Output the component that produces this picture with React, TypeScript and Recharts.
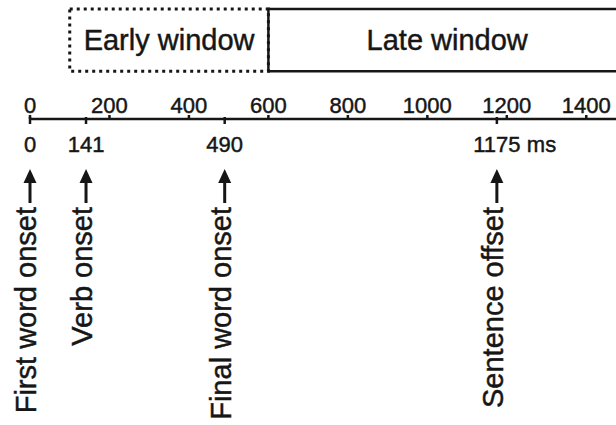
import { ComposedChart, XAxis, YAxis, ReferenceArea, Scatter } from "recharts";

// time axis (ms)
const TIME_DOMAIN = [0, 1500];
const SCALE_TICKS = [0, 200, 400, 600, 800, 1000, 1200, 1400];

// sentence events
const EVENT_TIMES = [0, 141, 490, 1175];
const EVENT_NAMES = ["First word onset", "Verb onset", "Final word onset", "Sentence offset"];
const EVENT_UNITS = ["", "", "", "ms"];

// analysis windows
const WINDOW_NAMES = ["Early window", "Late window"];
const WINDOW_STARTS = [100, 600];
const WINDOW_ENDS = [600, 1500];

const INK = "#161616";
const FONT = "'Liberation Sans', Arial, Helvetica, sans-serif";
const HEAVY = { stroke: INK, strokeWidth: 0.45 };

const eventData = EVENT_TIMES.map((t) => ({ t, level: 0 }));
const scaleData = SCALE_TICKS.map((t) => ({ t, level: 0 }));

const ScaleTick = (props: any) => {
    const { x, y, payload } = props;
    return (
        <g>
            <line x1={x} x2={x} y1={y} y2={y - 4} stroke={INK} strokeWidth={2.5} />
            <text x={x} y={y - 6} textAnchor="middle" fontSize={22} fill={INK} {...HEAVY}>
                {payload.value}
            </text>
        </g>
    );
};

// the events axis sits 1px under the scale axis
const EventTick = (props: any) => {
    const { x, payload } = props;
    const y = props.y - 1;
    const i = EVENT_TIMES.indexOf(payload.value);
    if (i < 0) return <g />;
    const unit = EVENT_UNITS[i];
    return (
        <g>
            <line x1={x} x2={x} y1={y} y2={y + 7} stroke={INK} strokeWidth={2.5} />
            <text x={x} y={y + 35} textAnchor="middle" fontSize={22} fill={INK} {...HEAVY}>
                {payload.value}
            </text>
            {unit ? (
                <text x={x + 30} y={y + 35} textAnchor="start" fontSize={22} fill={INK} {...HEAVY}>
                    {unit}
                </text>
            ) : null}
            {/* arrow */}
            <line x1={x} x2={x} y1={y + 64} y2={y + 86} stroke={INK} strokeWidth={3} />
            <path d={`M${x},${y + 52} L${x - 6.5},${y + 66} L${x + 6.5},${y + 66} Z`} fill={INK} />
            <text
                x={x + 6}
                y={y + 90}
                transform={`rotate(-90, ${x + 6}, ${y + 90})`}
                textAnchor="end"
                fontSize={29}
                fill={INK}
                {...HEAVY}
            >
                {EVENT_NAMES[i]}
            </text>
        </g>
    );
};

const NoDot = () => <g />;

export default function App() {
    return (
        <div style={{ position: "absolute", left: 0, top: 0, width: 616, height: 425, overflow: "hidden", background: "#fff" }}>
            <ComposedChart
                width={626}
                height={425}
                margin={{ top: 9, right: 0, bottom: 305, left: 30 }}
                style={{ fontFamily: FONT }}
            >
                <YAxis yAxisId="y" dataKey="level" type="number" domain={[0, 1]} hide />
                <XAxis
                    xAxisId="scale"
                    dataKey="t"
                    type="number"
                    domain={TIME_DOMAIN}
                    ticks={SCALE_TICKS}
                    orientation="bottom"
                    height={1}
                    tickSize={0}
                    tickMargin={0}
                    tickLine={false}
                    axisLine={{ stroke: INK, strokeWidth: 2.5 }}
                    tick={ScaleTick}
                    interval={0}
                    allowDataOverflow
                />
                <XAxis
                    xAxisId="events"
                    dataKey="t"
                    type="number"
                    domain={TIME_DOMAIN}
                    ticks={EVENT_TIMES}
                    orientation="bottom"
                    height={1}
                    tickSize={0}
                    tickMargin={0}
                    tickLine={false}
                    axisLine={false}
                    tick={EventTick}
                    interval={0}
                    allowDataOverflow
                />
                <Scatter
                    xAxisId="scale"
                    yAxisId="y"
                    data={scaleData}
                    dataKey="level"
                    shape={NoDot}
                    isAnimationActive={false}
                />
                <Scatter
                    xAxisId="events"
                    yAxisId="y"
                    data={eventData}
                    dataKey="level"
                    shape={NoDot}
                    isAnimationActive={false}
                />
                <ReferenceArea
                    xAxisId="scale"
                    yAxisId="y"
                    x1={WINDOW_STARTS[1]}
                    x2={WINDOW_ENDS[1]}
                    y1={0.43}
                    y2={1}
                    fill="#fff"
                    fillOpacity={0}
                    stroke={INK}
                    strokeWidth={2.5}
                    label={{ value: WINDOW_NAMES[1], position: "center", fontSize: 29, fill: INK, ...HEAVY }}
                />
                <ReferenceArea
                    xAxisId="scale"
                    yAxisId="y"
                    x1={WINDOW_STARTS[0]}
                    x2={WINDOW_ENDS[0]}
                    y1={0.43}
                    y2={1}
                    fill="#fff"
                    fillOpacity={0}
                    stroke={INK}
                    strokeWidth={3}
                    strokeDasharray="3 4"
                    label={{ value: WINDOW_NAMES[0], position: "center", fontSize: 29, fill: INK, ...HEAVY }}
                />
            </ComposedChart>
        </div>
    );
}
